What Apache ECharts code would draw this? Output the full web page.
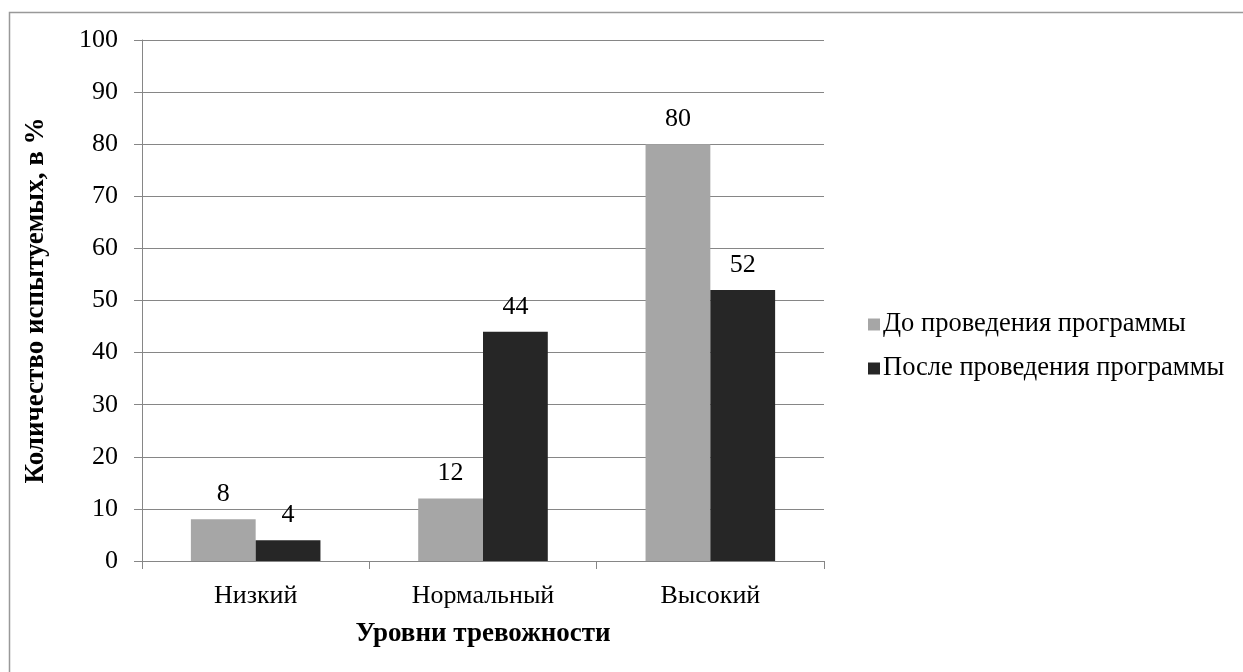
<!DOCTYPE html>
<html>
<head>
<meta charset="utf-8">
<script src="https://cdn.jsdelivr.net/npm/echarts@6/dist/echarts.min.js"></script>
<style>
  html, body { margin: 0; padding: 0; background: #fff; }
  #chart { width: 1243px; height: 672px; }
</style>
</head>
<body>
<div id="chart"></div>
<script>
// Anxiety levels before and after the programme, percent of subjects
const categories = ['Низкий', 'Нормальный', 'Высокий'];
const beforeValues = [8, 12, 80];
const afterValues = [4, 44, 52];
const seriesNames = ['До проведения программы', 'После проведения программы'];
const yAxisTitle = 'Количество испытуемых, в %';
const xAxisTitle = 'Уровни тревожности';

const FONT = '"Liberation Serif", "Times New Roman", serif';
const TEXT_SIZE = 26;
const TITLE_SIZE = 27;

const chart = echarts.init(document.getElementById('chart'), null, { renderer: 'canvas' });

const labelStyle = {
  show: true,
  position: 'top',
  distance: 12,
  fontFamily: FONT,
  fontSize: TEXT_SIZE,
  color: '#000'
};

chart.setOption({
  animation: false,
  backgroundColor: '#fff',
  graphic: [{
    type: 'rect',
    left: 7,
    top: 10,
    shape: { width: 1300, height: 700 },
    style: { fill: 'none', stroke: '#999', lineWidth: 1.5 },
    z: 0
  }],
  grid: { left: 142, top: 40, right: 419, bottom: 111, containLabel: false },
  legend: {
    orient: 'vertical',
    left: 863,
    top: 306,
    itemWidth: 12,
    itemHeight: 12,
    itemGap: 17,
    icon: 'rect',
    textStyle: { fontFamily: FONT, fontSize: 26.5, color: '#000', padding: [0, 0, 0, -2] },
    data: seriesNames
  },
  xAxis: {
    type: 'category',
    data: categories,
    name: xAxisTitle,
    nameLocation: 'middle',
    nameGap: 60,
    nameTextStyle: { fontFamily: FONT, fontSize: TITLE_SIZE, fontWeight: 'bold', color: '#000' },
    axisLine: { lineStyle: { color: '#868686', width: 1 } },
    axisTick: { show: true, length: 8, alignWithLabel: false, lineStyle: { color: '#868686' } },
    axisLabel: { fontFamily: FONT, fontSize: TEXT_SIZE, color: '#000', margin: 22 },
    splitLine: { show: false }
  },
  yAxis: {
    type: 'value',
    min: 0,
    max: 100,
    interval: 10,
    name: yAxisTitle,
    nameLocation: 'middle',
    nameRotate: 90,
    nameGap: 92,
    nameTextStyle: { fontFamily: FONT, fontSize: TITLE_SIZE, fontWeight: 'bold', color: '#000' },
    axisLine: { show: true, lineStyle: { color: '#868686', width: 1 } },
    axisTick: { show: true, length: 8, lineStyle: { color: '#868686' } },
    axisLabel: { fontFamily: FONT, fontSize: TEXT_SIZE, color: '#000', margin: 24 },
    splitLine: { show: true, lineStyle: { color: '#868686', width: 1 } }
  },
  series: [
    {
      name: seriesNames[0],
      type: 'bar',
      data: beforeValues,
      barGap: '0%',
      barCategoryGap: '43%',
      itemStyle: { color: '#a6a6a6' },
      label: labelStyle
    },
    {
      name: seriesNames[1],
      type: 'bar',
      data: afterValues,
      barGap: '0%',
      barCategoryGap: '43%',
      itemStyle: { color: '#262626' },
      label: labelStyle
    }
  ]
});
</script>
</body>
</html>
